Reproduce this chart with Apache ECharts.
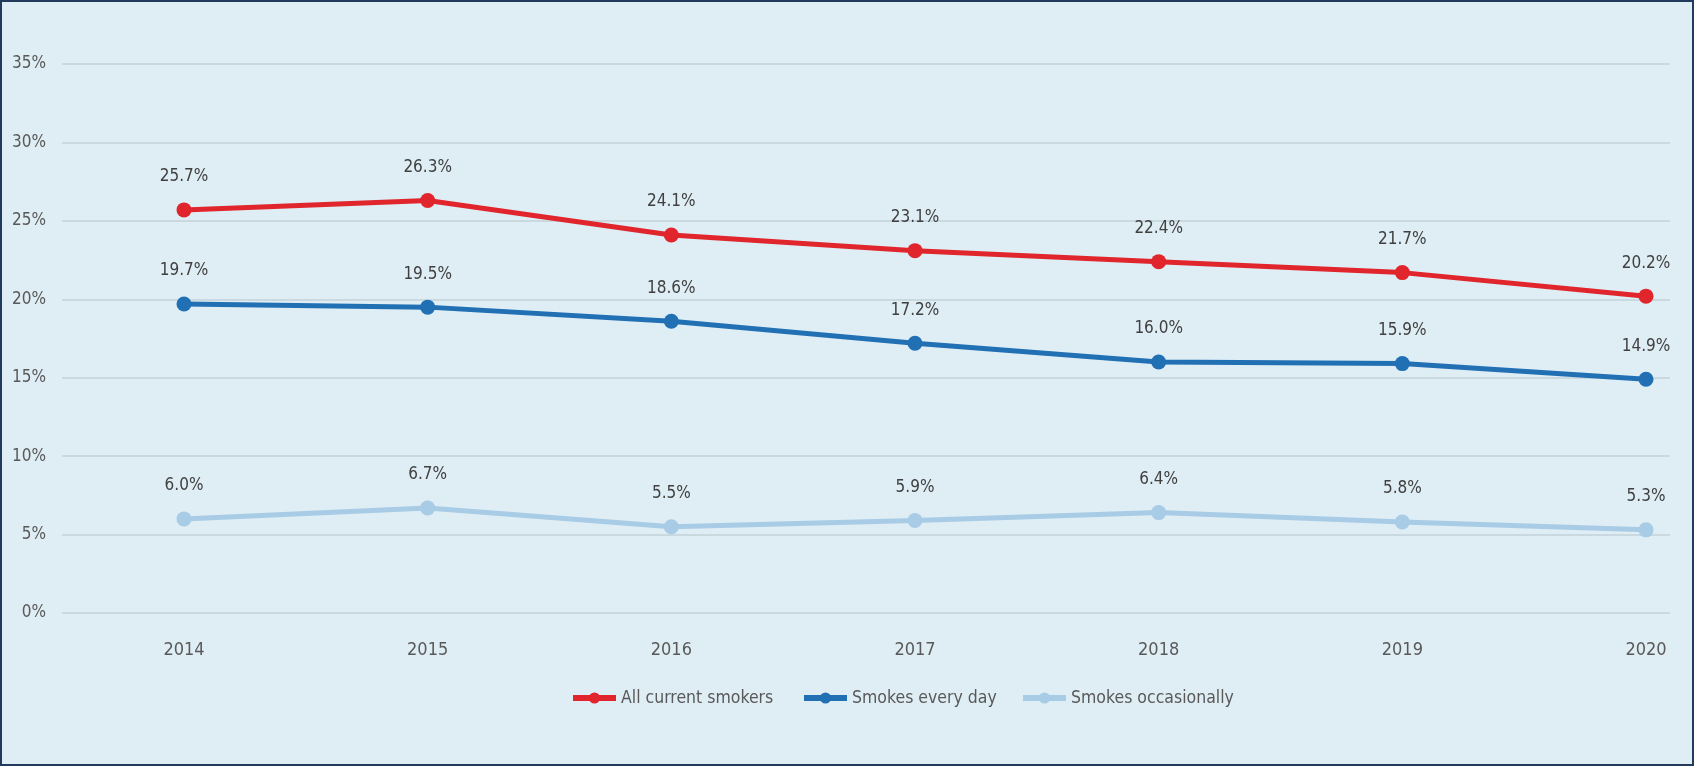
<!DOCTYPE html>
<html>
<head>
<meta charset="utf-8">
<script src="https://cdn.jsdelivr.net/npm/echarts@6/dist/echarts.min.js"></script>
<style>
html,body{margin:0;padding:0;background:#dfedf5;}
#wrap{position:relative;width:1694px;height:766px;}
#chart{position:absolute;left:0;top:0;width:1694px;height:766px;}
#border{position:absolute;left:0;top:0;width:1694px;height:766px;box-sizing:border-box;border:2px solid #223b5c;pointer-events:none;}
</style>
</head>
<body>
<div id="wrap"><div id="chart"></div><div id="border"></div></div>
<script>
const years = ['2014','2015','2016','2017','2018','2019','2020'];
const allSmokers = [25.7, 26.3, 24.1, 23.1, 22.4, 21.7, 20.2];
const everyDay = [19.7, 19.5, 18.6, 17.2, 16.0, 15.9, 14.9];
const occasionally = [6.0, 6.7, 5.5, 5.9, 6.4, 5.8, 5.3];
const seriesNames = ['All current smokers', 'Smokes every day', 'Smokes occasionally'];
const yTicks = [0, 5, 10, 15, 20, 25, 30, 35];

const FONT = "'Liberation Sans Narrow', 'DejaVu Sans Condensed', 'Liberation Sans', sans-serif";
const colors = ['#e0262c', '#2270b4', '#a8cbe6'];
const legendLefts = [570, 801, 1020];
const chart = echarts.init(document.getElementById('chart'));

function mk(name, data, color) {
  return {
    name: name, type: 'line', data: data,
    xAxisIndex: 1, yAxisIndex: 1,
    color: color,
    lineStyle: {width: 5, color: color},
    itemStyle: {color: color},
    symbol: 'circle', symbolSize: 15,
    label: {show: true, position: 'top', distance: 17, color: '#404040',
      fontFamily: FONT, fontSize: 17, formatter: p => p.value.toFixed(1) + '%'}
  };
}

chart.setOption({
  backgroundColor: '#dfedf5',
  animation: false,
  grid: [
    {left: 62, right: 24, top: 64, bottom: 153},
    {left: 184, right: 48, top: 64, bottom: 153}
  ],
  xAxis: [
    {gridIndex: 0, type: 'category', data: years, show: false},
    {gridIndex: 1, type: 'category', data: years, boundaryGap: false,
      axisLine: {show: false}, axisTick: {show: false},
      axisLabel: {color: '#595959', fontFamily: FONT, fontSize: 18, margin: 28}}
  ],
  yAxis: [
    {gridIndex: 0, type: 'value', min: yTicks[0], max: yTicks[yTicks.length-1], interval: 5,
      axisLine: {show: false}, axisTick: {show: false},
      axisLabel: {color: '#595959', fontFamily: FONT, fontSize: 17, margin: 16, formatter: v => v + '%'},
      splitLine: {lineStyle: {color: '#c3d0d8', width: 1.5}}},
    {gridIndex: 1, type: 'value', min: yTicks[0], max: yTicks[yTicks.length-1], interval: 5, show: false,
      splitLine: {show: false}}
  ],
  legend: seriesNames.map((n, i) => ({
    data: [n], left: legendLefts[i], top: 689, padding: 0, itemWidth: 43, itemHeight: 14,
    lineStyle: {width: 6},
    textStyle: {color: '#595959', fontFamily: FONT, fontSize: 17.5}
  })),
  series: [
    mk(seriesNames[0], allSmokers, colors[0]),
    mk(seriesNames[1], everyDay, colors[1]),
    mk(seriesNames[2], occasionally, colors[2])
  ]
});
</script>
</body>
</html>
